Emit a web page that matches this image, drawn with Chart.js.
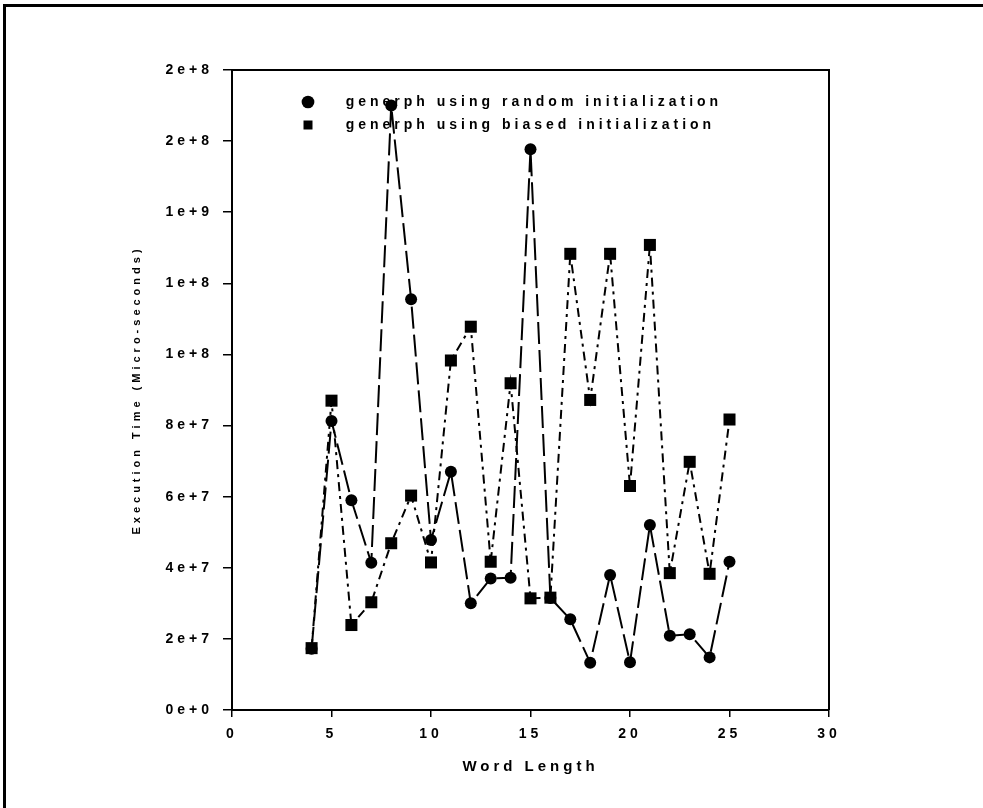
<!DOCTYPE html>
<html>
<head>
<meta charset="utf-8">
<title>Execution time vs word length</title>
<script src="https://cdn.jsdelivr.net/npm/chart.js@4.4.1/dist/chart.umd.min.js"></script>
<style>
  html, body { margin: 0; padding: 0; background: #fff; }
  #wrap { position: relative; width: 983px; height: 808px; }
  #frame { position: absolute; left: 3px; top: 4px; right: 0; bottom: 0;
           border-top: 3px solid #000; border-left: 3px solid #000; pointer-events: none; }
  canvas { position: absolute; left: 0; top: 0; }
</style>
</head>
<body>
<div id="wrap">
  <canvas id="chart" width="983" height="808"></canvas>
  <div id="frame"></div>
</div>
<script>
// values
const wordLength = [4, 5, 6, 7, 8, 9, 10, 11, 12, 13, 14, 15, 16, 17, 18, 19, 20, 21, 22, 23, 24, 25];
const randomInit = [1.72e7, 8.13e7, 5.9e7, 4.14e7, 1.70e8, 1.155e8, 4.78e7, 6.7e7, 3.0e7, 3.7e7, 3.72e7,
                    1.577e8, 3.15e7, 2.55e7, 1.33e7, 3.8e7, 1.34e7, 5.2e7, 2.09e7, 2.13e7, 1.48e7, 4.17e7];
const biasedInit = [1.74e7, 8.7e7, 2.39e7, 3.03e7, 4.69e7, 6.03e7, 4.15e7, 9.83e7, 1.078e8, 4.17e7, 9.19e7,
                    3.14e7, 3.16e7, 1.283e8, 8.72e7, 1.283e8, 6.3e7, 1.308e8, 3.85e7, 6.98e7, 3.83e7, 8.17e7];
const xTickLabels = ['0', '5', '10', '15', '20', '25', '30'];
const yTickLabels = ['0e+0', '2e+7', '4e+7', '6e+7', '8e+7', '1e+8', '1e+8', '1e+9', '2e+8', '2e+8'];

const FONT = '"Liberation Sans", Arial, sans-serif';

// SigmaPlot style wide lettering
const spacing = {
  id: 'spacing',
  beforeUpdate(chart) { chart.ctx.letterSpacing = '4px'; },
  beforeDraw(chart) { chart.ctx.letterSpacing = '4px'; }
};

// legend sits inside the plot box, near its top, a bit in from the y axis
const legendShift = {
  id: 'legendShift',
  afterLayout(chart) {
    const lg = chart.legend;
    const w = lg.right - lg.left;
    const h = lg.bottom - lg.top;
    lg.left = chart.chartArea.left + 60;
    lg.right = lg.left + w;
    lg.top = chart.chartArea.top;
    lg.bottom = lg.top + h;
  }
};

// top and right edges of the plot box
const plotBox = {
  id: 'plotBox',
  beforeDatasetsDraw(chart) {
    const { ctx, chartArea: a } = chart;
    ctx.save();
    ctx.strokeStyle = '#000';
    ctx.lineWidth = 2;
    ctx.beginPath();
    ctx.moveTo(a.left, a.top);
    ctx.lineTo(a.right, a.top);
    ctx.lineTo(a.right, a.bottom);
    ctx.stroke();
    ctx.restore();
  }
};

const data = {
  datasets: [{
    label: 'generph using random initialization',
    data: wordLength.map((x, i) => ({ x: x, y: randomInit[i] })),
    borderColor: '#000',
    backgroundColor: '#000',
    borderWidth: 2,
    borderDash: [22, 6],
    pointStyle: 'circle',
    pointRadius: 6,
    pointBorderWidth: 0,
    tension: 0,
    fill: false
  }, {
    label: 'generph using biased initialization',
    data: wordLength.map((x, i) => ({ x: x, y: biasedInit[i] })),
    borderColor: '#000',
    backgroundColor: '#000',
    borderWidth: 2,
    borderDash: [9, 5, 3, 5],
    pointStyle: 'rect',
    pointRadius: 8.5,
    pointBorderWidth: 0,
    tension: 0,
    fill: false
  }]
};

const config = {
  type: 'line',
  data: data,
  options: {
    responsive: false,
    animation: false,
    layout: { padding: { left: 130, right: 154, top: 70, bottom: 0 } },
    plugins: {
      tooltip: { enabled: false },
      legend: {
        position: 'chartArea',
        align: 'start',
        title: { display: true, text: '', font: { size: 10 }, padding: { top: 4, bottom: 0 } },
        labels: {
          usePointStyle: true,
          boxHeight: 9,
          padding: 9,
          color: '#000',
          font: { family: FONT, size: 14, weight: 'bold' },
          generateLabels(chart) {
            return Chart.defaults.plugins.legend.labels.generateLabels(chart).map(l => {
              l.text = '   ' + l.text;
              l.lineDash = [];
              l.lineWidth = 0;
              return l;
            });
          }
        }
      }
    },
    scales: {
      x: {
        type: 'linear',
        min: 0,
        max: 30,
        afterFit(s) { s.height = 98; },
        ticks: {
          stepSize: 5,
          autoSkip: false,
          maxRotation: 0,
          padding: 9,
          color: '#000',
          font: { family: FONT, size: 14, weight: 'bold' },
          callback: (v, i) => xTickLabels[i]
        },
        grid: { drawOnChartArea: false, color: '#000', lineWidth: 1.5, tickLength: 7 },
        border: { display: true, color: '#000', width: 2 },
        title: {
          display: true,
          text: 'Word Length',
          color: '#000',
          font: { family: FONT, size: 15, weight: 'bold' },
          padding: { top: 0, bottom: 32 }
        }
      },
      y: {
        type: 'linear',
        min: 0,
        max: 1.8e8,
        afterFit(s) { s.width = 102; },
        ticks: {
          stepSize: 2e7,
          autoSkip: false,
          padding: 10,
          color: '#000',
          font: { family: FONT, size: 14, weight: 'bold' },
          callback: (v, i) => yTickLabels[i]
        },
        grid: { drawOnChartArea: false, color: '#000', lineWidth: 1.5, tickLength: 9 },
        border: { display: true, color: '#000', width: 2 },
        title: {
          display: true,
          text: 'Execution Time (Micro-seconds)',
          color: '#000',
          font: { family: FONT, size: 11, weight: 'bold' },
          padding: 0
        }
      }
    }
  },
  plugins: [spacing, legendShift, plotBox]
};

const myChart = new Chart(document.getElementById('chart'), config);
</script>
</body>
</html>
